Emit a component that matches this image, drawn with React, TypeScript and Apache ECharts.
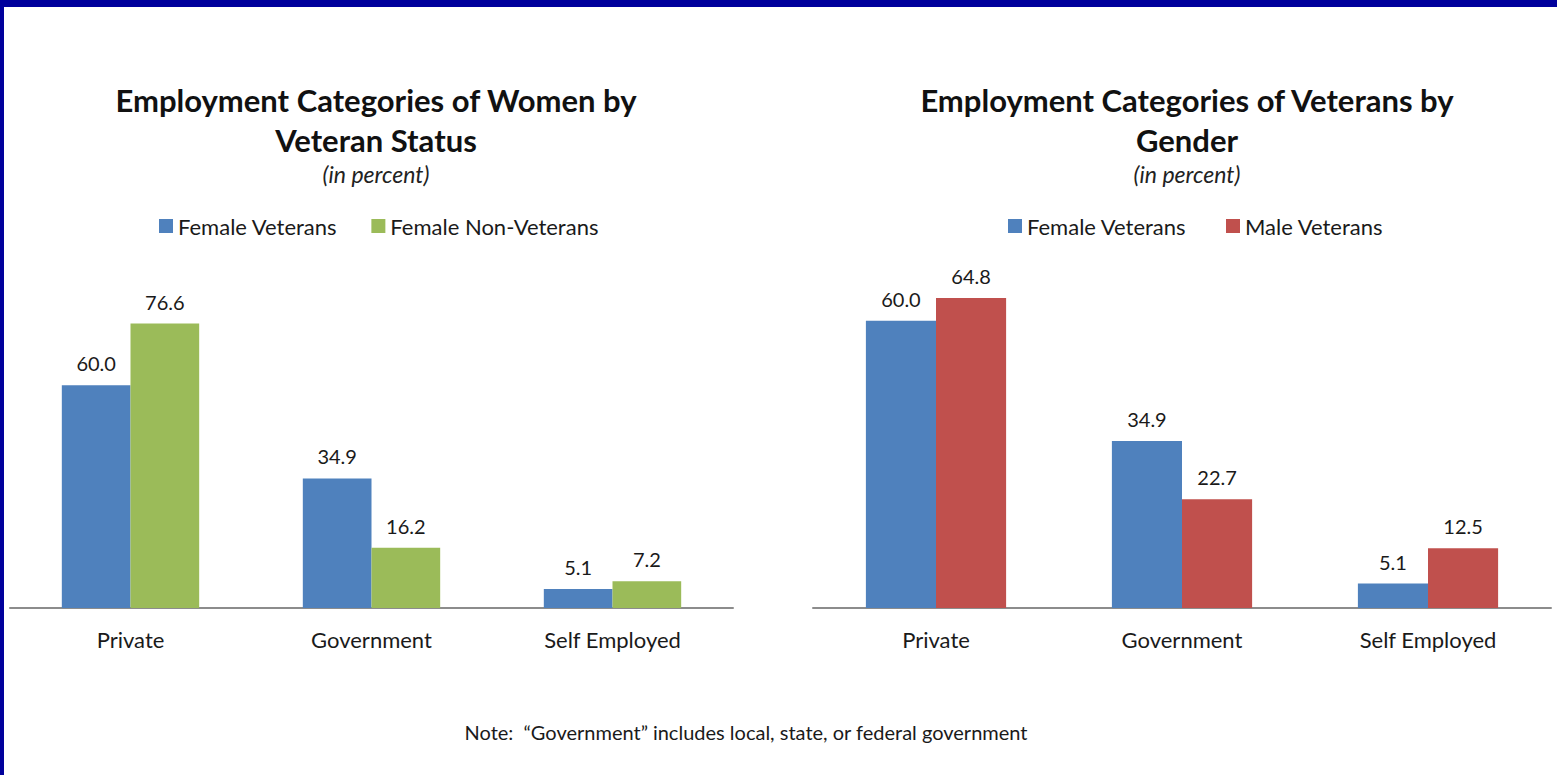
import React, { useEffect, useRef } from "react";
import * as echarts from "echarts";

const categories = ["Private", "Government", "Self Employed"];
const femaleVeterans = [60.0, 34.9, 5.1];
const femaleNonVeterans = [76.6, 16.2, 7.2];
const maleVeterans = [64.8, 22.7, 12.5];

const BLUE = "#4F81BD";
const GREEN = "#9BBB59";
const RED = "#C0504D";
const NAVY = "#00009C";
const FONT = "Lato";
const TEXT = "#1a1a1a";

export default function App() {
  const ref = useRef<HTMLDivElement>(null);
  useEffect(() => {
    if (!ref.current) return;
    const chart = echarts.init(ref.current, undefined, { renderer: "svg" });
    const labelCfg = {
      show: true,
      position: "top" as const,
      distance: 12,
      fontFamily: FONT,
      fontSize: 20,
      color: TEXT,
      formatter: (p: any) => Number(p.value).toFixed(1),
    };
    const xAxisCommon = {
      type: "category" as const,
      data: categories,
      axisLine: { lineStyle: { color: "#8c8c8c", width: 2 } },
      axisTick: { show: false },
      axisLabel: { fontFamily: FONT, fontSize: 22, color: TEXT, margin: 20 },
    };
    const yAxisCommon = {
      type: "value" as const,
      min: 0,
      show: false,
      splitLine: { show: false },
    };
    const titleCommon = {
      textAlign: "center" as const,
      textStyle: { fontFamily: FONT, fontSize: 31, fontWeight: "bold" as const, color: "#111", lineHeight: 40 },
      subtextStyle: { fontFamily: FONT, fontSize: 23, fontStyle: "italic" as const, color: "#222", lineHeight: 24 },
      itemGap: 2,
      top: 75,
    };
    const legendCommon = {
      top: 210,
      icon: "rect",
      itemWidth: 14,
      itemHeight: 14,
      itemGap: 34,
      textStyle: { fontFamily: FONT, fontSize: 22, color: TEXT },
      selectedMode: false,
    };
    chart.setOption({
      animation: false,
      backgroundColor: "#ffffff",
      title: [
        { ...titleCommon, left: 371, text: "Employment Categories of Women by\nVeteran Status", subtext: "(in percent)" },
        { ...titleCommon, left: 1182, text: "Employment Categories of Veterans by\nGender", subtext: "(in percent)" },
      ],
      legend: [
        { ...legendCommon, left: 154, data: ["Female Veterans", "Female Non-Veterans"] },
        { ...legendCommon, left: 1003, data: ["Female Veterans ", "Male Veterans"] },
      ],
      grid: [
        { left: 10, width: 723, top: 311, height: 297 },
        { left: 813, width: 738, top: 273, height: 335 },
      ],
      xAxis: [
        { ...xAxisCommon, gridIndex: 0 },
        { ...xAxisCommon, gridIndex: 1 },
      ],
      yAxis: [
        { ...yAxisCommon, gridIndex: 0, max: 80 },
        { ...yAxisCommon, gridIndex: 1, max: 70 },
      ],
      series: [
        { type: "bar", name: "Female Veterans", xAxisIndex: 0, yAxisIndex: 0, data: femaleVeterans, itemStyle: { color: BLUE }, barGap: "0%", barCategoryGap: "43%", label: labelCfg },
        { type: "bar", name: "Female Non-Veterans", xAxisIndex: 0, yAxisIndex: 0, data: femaleNonVeterans, itemStyle: { color: GREEN }, barGap: "0%", barCategoryGap: "43%", label: labelCfg },
        { type: "bar", name: "Female Veterans ", xAxisIndex: 1, yAxisIndex: 1, data: femaleVeterans, itemStyle: { color: BLUE }, barGap: "0%", barCategoryGap: "43%", label: labelCfg },
        { type: "bar", name: "Male Veterans", xAxisIndex: 1, yAxisIndex: 1, data: maleVeterans, itemStyle: { color: RED }, barGap: "0%", barCategoryGap: "43%", label: labelCfg },
      ],
      graphic: [
        { type: "rect", left: 0, top: 0, shape: { width: 1557, height: 7 }, style: { fill: NAVY }, silent: true },
        { type: "rect", left: 0, top: 0, shape: { width: 4, height: 775 }, style: { fill: NAVY }, silent: true },
        {
          type: "text",
          x: 746,
          y: 732,
          style: {
            text: "Note:  \u201cGovernment\u201d includes local, state, or federal government",
            fontFamily: FONT,
            fontSize: 20,
            fill: TEXT,
            align: "center",
            verticalAlign: "middle",
          },
        },
      ],
    });
    return () => chart.dispose();
  }, []);
  return (
    <div
      ref={ref}
      style={{ position: "fixed", left: 0, top: 0, width: 1557, height: 775, background: "#fff" }}
    />
  );
}
